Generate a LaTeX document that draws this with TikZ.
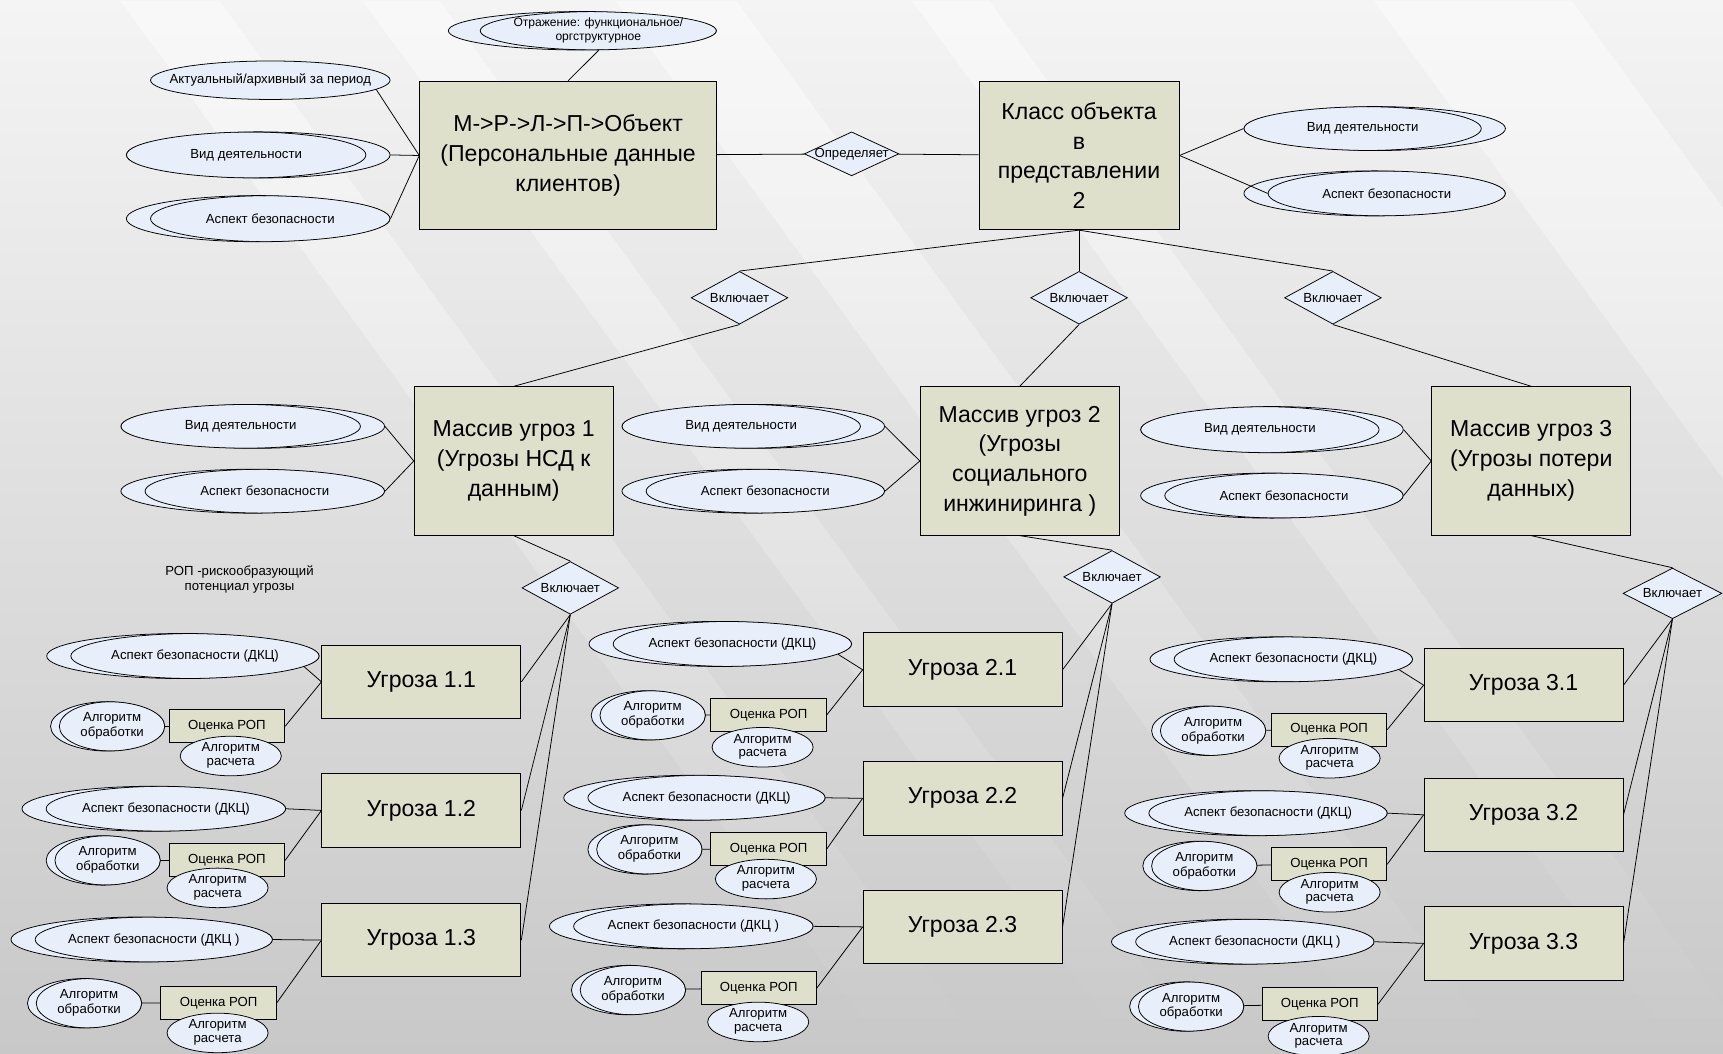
\documentclass[tikz,border=0pt]{standalone}
\usepackage{fontspec}
\setmainfont{Liberation Sans}
\usepackage{tikz}
\usetikzlibrary{shapes.geometric,calc,positioning,fadings}
\definecolor{boxfill}{RGB}{222,224,204}
\definecolor{attrfill}{RGB}{232,238,250}
\definecolor{bgtop}{RGB}{244,244,244}
\definecolor{bgbot}{RGB}{200,200,200}
\newcommand\bigtxt{\fontsize{21}{27}\selectfont}
\newcommand\smalltxt{\fontsize{12}{13.5}\selectfont}
\newcommand\tx[1]{\makebox[0pt]{#1}}
\newcommand\twol[2]{\tx{\begin{tabular}{@{}c@{}}#1\\#2\end{tabular}}}

\begin{document}
\begin{tikzpicture}[x=1pt,y=-1pt,
	entity/.style={draw, fill=boxfill, line width=0.9pt, align=center, font=\bigtxt, inner sep=0pt},
	threat/.style={entity, minimum width=181pt, minimum height=67pt},
	arr/.style={entity, minimum width=181pt, minimum height=135pt},
	rop/.style={draw, fill=boxfill, line width=0.9pt, font=\smalltxt, inner sep=0pt, minimum width=105pt, minimum height=30pt},
	attr/.style={ellipse, draw, fill=attrfill, line width=0.7pt, font=\smalltxt, inner sep=0pt},
	multir/.style={attr, execute at begin node={\hspace*{#1pt}},
		path picture={\draw[line width=0.7pt] let \p1=(path picture bounding box.south west), \p2=(path picture bounding box.north east) in
			({(\x1+\x2)/2+(#1)*0.5pt},{(\y1+\y2)/2}) ellipse [x radius={(\x2-\x1)/2-(#1)*0.5pt}, y radius={(\y2-\y1)/2}];}},
	multil/.style={attr, execute at end node={\hspace*{#1pt}},
		path picture={\draw[line width=0.7pt] let \p1=(path picture bounding box.south west), \p2=(path picture bounding box.north east) in
			({(\x1+\x2)/2-(#1)*0.5pt},{(\y1+\y2)/2}) ellipse [x radius={(\x2-\x1)/2-(#1)*0.5pt}, y radius={(\y2-\y1)/2}];}},
	rel/.style={diamond, draw, fill=attrfill, line width=0.7pt, font=\smalltxt, inner sep=0pt, minimum width=88pt, minimum height=48pt},
	every edge/.style={draw, line width=0.7pt}]

\useasboundingbox (0,0) rectangle (1568,959);
% background
\begin{scope}
\clip (0,0) rectangle (1568,959);
\fill[top color=bgtop, bottom color=bgbot] (0,0) rectangle (1568,959);
\foreach \sx/\sw in {110/90, 330/70, 560/110, 830/70, 1250/180}
	\fill[white, opacity=0.45, path fading=south] (\sx,0) -- ++(\sw,0) -- ++(700,959) -- ++(-\sw,0) -- cycle;
\end{scope}

% object and class
\node[entity, minimum width=270pt, minimum height=135pt]	(obj)	at (517,141.5)	{М->Р->Л->П->Объект\\(Персональные данные\\клиентов)};
\node[entity, minimum width=182pt, minimum height=135pt]	(cls)	at (982,141.5)	{Класс объекта\\в\\представлении\\2};
\node[rel, minimum width=86pt, minimum height=40pt]		(def)	at (775,140)	{\tx{Определяет}};
\node[multir=29, minimum width=244pt, minimum height=35pt, font=\fontsize{11}{12}\selectfont]	(refl)	at (530,28)	{\twol{Отражение: функциональное/}{оргструктурное}};
\node[attr, minimum width=218pt, minimum height=35pt]		(act)	at (246,73)		{\tx{Актуальный/архивный за период}};
\node[multil=22, minimum width=240pt, minimum height=42pt]	(vid0)	at (235,141)	{\tx{Вид деятельности}};
\node[multir=22, minimum width=240pt, minimum height=42pt]	(asp0)	at (235,199)	{\tx{Аспект безопасности}};
\node[multil=22, minimum width=238pt, minimum height=40pt]	(vidc)	at (1251,117)	{\tx{Вид деятельности}};
\node[multir=22, minimum width=238pt, minimum height=41pt]	(aspc)	at (1251,176)	{\tx{Аспект безопасности}};

% threat arrays
\node[rel]	(v1)	at (673,271)	{\tx{Включает}};
\node[rel]	(v2)	at (982,271)	{\tx{Включает}};
\node[rel]	(v3)	at (1213,271)	{\tx{Включает}};
\node[arr]	(arr1)	at (467.5,419.5)	{Массив угроз 1\\(Угрозы НСД к\\данным)};
\node[arr]	(arr2)	at (928,419.5)		{Массив угроз 2\\(Угрозы\\социального\\инжиниринга )};
\node[arr]	(arr3)	at (1393.5,419.5)	{Массив угроз 3\\(Угрозы потери\\данных)};
\node[multil=22, minimum width=240pt, minimum height=40pt]	(vid1)	at (230,388)	{\tx{Вид деятельности}};
\node[multir=22, minimum width=240pt, minimum height=40pt]	(asp1)	at (230,447)	{\tx{Аспект безопасности}};
\node[multil=22, minimum width=239pt, minimum height=40pt]	(vid2)	at (685.5,388)	{\tx{Вид деятельности}};
\node[multir=22, minimum width=239pt, minimum height=40pt]	(asp2)	at (685.5,447)	{\tx{Аспект безопасности}};
\node[multil=22, minimum width=239pt, minimum height=42pt]	(vid3)	at (1157.5,391)	{\tx{Вид деятельности}};
\node[multir=22, minimum width=239pt, minimum height=41pt]	(asp3)	at (1157.5,451)	{\tx{Аспект безопасности}};
\node[rel]	(w1)	at (519,535)	{\tx{Включает}};
\node[rel]	(w2)	at (1012,525)	{\tx{Включает}};
\node[rel, minimum width=90pt, minimum height=46pt]	(w3)	at (1522,540)	{\tx{Включает}};
\node[font=\smalltxt, align=center, inner sep=0pt]	(note)	at (218,527)	{РОП -рискообразующий\\потенциал угрозы};

% threats
\foreach \n/\lb/\bx/\by/\ex/\ey/\ew/\ea/\et/\gx/\gy/\ox/\oy/\cx/\cy in {
	11/1.1/383.5/620.5/166.5/597/248/-5/{(ДКЦ)}/98/661/206.5/661/210/688,
	12/1.2/383.5/737.5/140/736/240/0/{(ДКЦ)}/94/783/206.5/783/198/808,
	13/1.3/383.5/855.5/129/855/238/0/{(ДКЦ )}/77/913/199/912.5/198/940,
	21/2.1/876/609.5/655.5/586/239/-5/{(ДКЦ)}/590/651/699.5/650.5/694/680,
	22/2.2/876/726.5/632/726/238/0/{(ДКЦ)}/587/773/699.5/772.5/697/800,
	23/2.3/876/843.5/620/843/240/0/{(ДКЦ )}/572/901/690.5/899/690/930,
	31/3.1/1386.5/623.5/1166/600/239/-5/{(ДКЦ)}/1100/665/1209.5/664/1210/690,
	32/3.2/1386.5/741.5/1143/740/239/0/{(ДКЦ)}/1092/788/1209.5/786.5/1210/812,
	33/3.3/1386.5/858.5/1131/857/239/0/{(ДКЦ )}/1080/916/1201/914/1200/943}
{
	\node[threat]	(u\n)	at (\bx,\by)	{Угроза \lb};
	\node[multir=22, minimum width=\ew pt, minimum height=41pt]	(e\n)	at (\ex,\ey)	{\tx{Аспект безопасности \et}};
	\node[multir=8, minimum width=104pt, minimum height=45pt]	(g\n)	at (\gx,\gy)	{\twol{Алгоритм}{обработки}};
	\node[rop]	(o\n)	at (\ox,\oy)	{Оценка РОП};
	\node[attr, minimum width=92pt, minimum height=36pt, font=\fontsize{12}{12.5}\selectfont]	(c\n)	at (\cx,\cy)	{\twol{Алгоритм}{расчета}};
	\path
	(e\n.\ea)	edge	(u\n.west)
	(o\n.east)	edge	(u\n.west)
	(g\n)		edge	(o\n);
}

\path
(refl.-50)	edge	(obj.north)
(act.-5)	edge	(obj.west)
(vid0.east)	edge	(obj.west)
(asp0.east)	edge	(obj.west)
(obj)		edge	(def)
(def)		edge	(cls)
(cls.east)	edge	(vidc.west)
(cls.east)	edge	([xshift=22pt]aspc.west)

(cls.south)	edge	(v1.north)
			edge	(v2.north)
			edge	(v3.north)
(v1.south)	edge	(arr1.north)
(v2.south)	edge	(arr2.north)
(v3.south)	edge	(arr3.north)

(vid1.east)	edge	(arr1.west)
(asp1.east)	edge	(arr1.west)
(vid2.east)	edge	(arr2.west)
(asp2.east)	edge	(arr2.west)
(vid3.east)	edge	(arr3.west)
(asp3.east)	edge	(arr3.west)

(arr1.south)	edge	(w1.north)
(arr2.south)	edge	(w2.north)
(arr3.south)	edge	(w3.north);

\foreach \c in {1,2,3}
	\foreach \r in {1,2,3}
		\path (w\c.south) edge (u\c\r.east);
\end{tikzpicture}
\end{document}
